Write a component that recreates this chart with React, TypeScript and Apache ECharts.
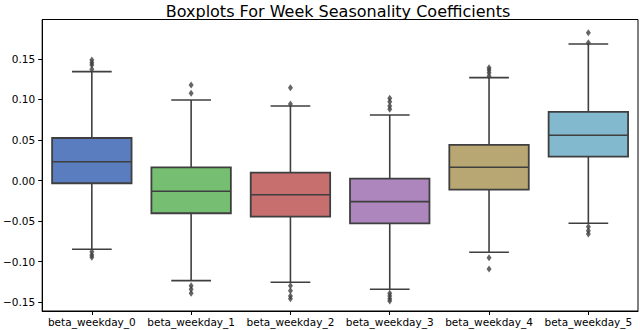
import React, { useEffect, useRef } from "react";
import * as echarts from "echarts";

const categories = [
  "beta_weekday_0",
  "beta_weekday_1",
  "beta_weekday_2",
  "beta_weekday_3",
  "beta_weekday_4",
  "beta_weekday_5",
];
const whiskerLow = [-0.0847, -0.1234, -0.1254, -0.134, -0.0884, -0.0527];
const q1 = [-0.0033, -0.0403, -0.0445, -0.0527, -0.0112, 0.0295];
const median = [0.0233, -0.0132, -0.0174, -0.026, 0.0164, 0.0559];
const q3 = [0.0525, 0.0164, 0.0097, 0.0024, 0.0439, 0.0846];
const whiskerHigh = [0.1343, 0.0994, 0.092, 0.0809, 0.1269, 0.1684];
const outliers0 = [0.1487, 0.1454, 0.1425, 0.1372, -0.0877, -0.0917, -0.0946];
const outliers1 = [0.1179, 0.1076, -0.1296, -0.134, -0.139];
const outliers2 = [0.1146, 0.0945, -0.1296, -0.1357, -0.1423, -0.1456];
const outliers3 = [0.1015, 0.0973, 0.092, 0.0879, -0.139, -0.1423, -0.1456, -0.1485];
const outliers4 = [0.1392, 0.1364, 0.133, 0.129, -0.095, -0.109];
const outliers5 = [0.1824, 0.17, -0.0568, -0.0618, -0.0658];
const yTicks = [-0.15, -0.1, -0.05, 0, 0.05, 0.1, 0.15];

const boxColors = ["#597DBE", "#76BF72", "#C76E6E", "#AE86BE", "#B8A772", "#83B9CE"];
const lineColor = "#3f3f3f";

export default function App() {
  const ref = useRef<HTMLDivElement>(null);
  useEffect(() => {
    document.body.style.margin = "0";
    if (!ref.current) return;
    const chart = echarts.init(ref.current, null, { renderer: "svg" });
    const boxData = categories.map((_, i) => [
      i,
      whiskerLow[i],
      q1[i],
      median[i],
      q3[i],
      whiskerHigh[i],
    ]);
    const allOutliers = [outliers0, outliers1, outliers2, outliers3, outliers4, outliers5];
    const outlierData: number[][] = [];
    allOutliers.forEach((arr, i) => arr.forEach((v) => outlierData.push([i, v])));

    chart.setOption({
      animation: false,
      title: {
        text: "Boxplots For Week Seasonality Coefficients",
        left: 338,
        textAlign: "center",
        top: 2,
        padding: 0,
        textStyle: {
          fontFamily: "DejaVu Sans",
          fontSize: 16,
          fontWeight: "normal",
          color: "#000",
          lineHeight: 18,
        },
      },
      grid: {
        left: 39,
        right: 2,
        top: 19.5,
        bottom: 19,
        show: true,
        borderColor: "#000",
        borderWidth: 1,
        backgroundColor: "#fff",
      },
      xAxis: {
        type: "category",
        data: categories,
        boundaryGap: true,
        axisLine: { show: true, onZero: false, lineStyle: { color: "#000", width: 1 } },
        axisTick: { show: true, alignWithLabel: true, length: 4, lineStyle: { color: "#000" } },
        axisLabel: {
          fontFamily: "DejaVu Sans",
          fontSize: 10.5,
          color: "#000",
          margin: 5,
          interval: 0,
        },
        splitLine: { show: false },
      },
      yAxis: {
        type: "value",
        min: -0.1608,
        max: 0.1986,
        axisLine: { show: true, onZero: false, lineStyle: { color: "#000", width: 1 } },
        axisTick: {
          show: true,
          length: 4,
          lineStyle: { color: "#000" },
          customValues: yTicks,
        },
        axisLabel: {
          customValues: yTicks,
          fontFamily: "DejaVu Sans",
          fontSize: 10.5,
          color: "#000",
          margin: 7,
          formatter: (v: number) => {
            const s = Math.abs(v).toFixed(2);
            return v < -1e-9 ? "\u2212" + s : s;
          },
        },
        splitLine: { show: false },
      },
      series: [
        {
          type: "custom",
          data: boxData,
          encode: { x: 0, y: [1, 2, 3, 4, 5] },
          renderItem: (params: any, api: any) => {
            const x = api.value(0);
            const lo = api.coord([x, api.value(1)]);
            const b1 = api.coord([x, api.value(2)]);
            const md = api.coord([x, api.value(3)]);
            const b3 = api.coord([x, api.value(4)]);
            const hi = api.coord([x, api.value(5)]);
            const band = api.size([1, 0])[0];
            const bw = band * 0.8;
            const cw = bw / 2;
            const cx = lo[0];
            const lineStyle = { stroke: lineColor, lineWidth: 1.6 };
            return {
              type: "group",
              children: [
                { type: "line", shape: { x1: cx, y1: b1[1], x2: cx, y2: lo[1] }, style: lineStyle },
                { type: "line", shape: { x1: cx, y1: b3[1], x2: cx, y2: hi[1] }, style: lineStyle },
                { type: "line", shape: { x1: cx - cw / 2, y1: lo[1], x2: cx + cw / 2, y2: lo[1] }, style: lineStyle },
                { type: "line", shape: { x1: cx - cw / 2, y1: hi[1], x2: cx + cw / 2, y2: hi[1] }, style: lineStyle },
                {
                  type: "rect",
                  shape: { x: cx - bw / 2, y: b3[1], width: bw, height: b1[1] - b3[1] },
                  style: { fill: boxColors[params.dataIndex], stroke: lineColor, lineWidth: 1.8 },
                },
                { type: "line", shape: { x1: cx - bw / 2, y1: md[1], x2: cx + bw / 2, y2: md[1] }, style: { stroke: lineColor, lineWidth: 1.6 } },
              ],
            };
          },
          z: 2,
        },
        {
          type: "scatter",
          data: outlierData,
          symbol: "diamond",
          symbolSize: [5, 7],
          itemStyle: { color: lineColor },
          z: 3,
        },
      ],
    });
    return () => chart.dispose();
  }, []);
  return <div ref={ref} style={{ width: 640, height: 330 }} />;
}
